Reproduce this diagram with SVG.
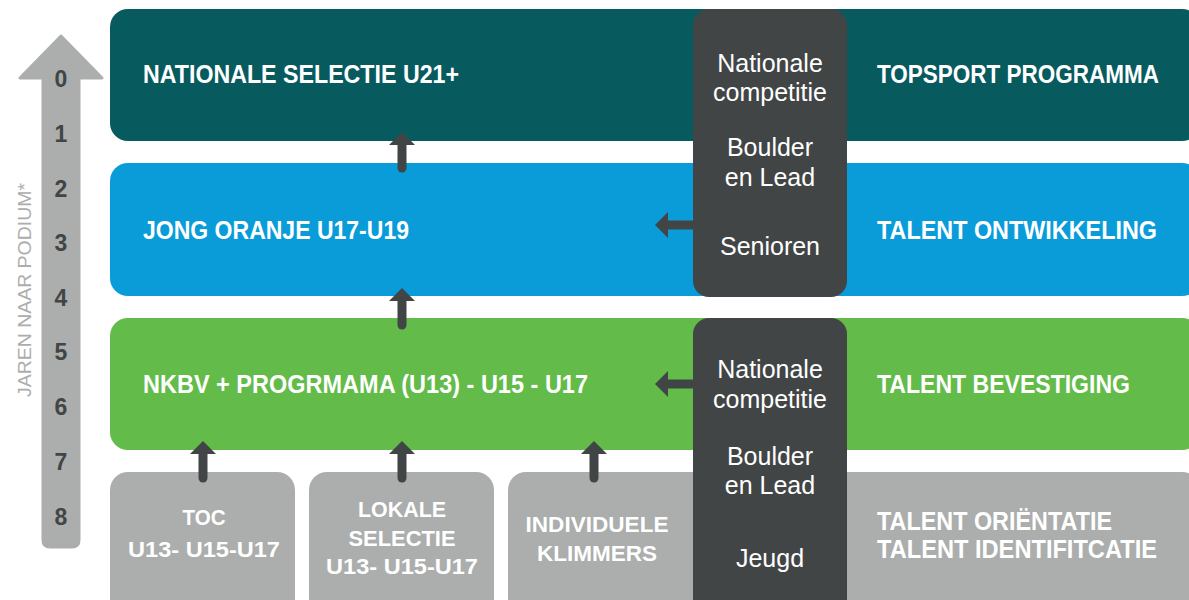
<svg xmlns="http://www.w3.org/2000/svg" width="1189" height="600" viewBox="0 0 1189 600">
<style>
.band-label{font-family:"Liberation Sans",Arial,sans-serif;font-weight:bold;font-size:25px;fill:#ffffff}
.box-label{font-family:"Liberation Sans",Arial,sans-serif;font-weight:bold;font-size:22.5px;fill:#ffffff;text-anchor:middle}
.dark-label{font-family:"Liberation Sans",Arial,sans-serif;font-size:25px;fill:#ffffff;text-anchor:middle}
.num{font-family:"Liberation Sans",Arial,sans-serif;font-weight:bold;font-size:23px;fill:#424546;text-anchor:middle}
.axis-label{font-family:"Liberation Sans",Arial,sans-serif;font-size:18px;fill:#abaeac;text-anchor:middle}
.conn{stroke:#424546;stroke-width:9;stroke-linecap:round;fill:none;marker-end:url(#head)}
.teal{fill:#075b5f}.blue{fill:#0a9cd9}.green{fill:#63bb4a}.gray{fill:#abaeac}.dark{fill:#424546}
</style>
<defs>
<marker id="head" markerUnits="userSpaceOnUse" viewBox="0 0 13 26" refX="0" refY="13" markerWidth="13" markerHeight="26" orient="auto">
<path d="M0,0 L13,13 L0,26 Z" fill="#424546"/>
</marker>
</defs>
<rect width="1189" height="600" fill="#ffffff"/>

<g id="axis">
<path d="M61,36 L102,78 L79,78 L79,540 Q79,547 72,547 L50,547 Q43,547 43,540 L43,78 L20,78 Z" fill="#abaeac" stroke="#abaeac" stroke-width="3" stroke-linejoin="round"/>
<text class="num" x="61" y="87">0</text>
<text class="num" x="61" y="142">1</text>
<text class="num" x="61" y="197">2</text>
<text class="num" x="61" y="251">3</text>
<text class="num" x="61" y="306">4</text>
<text class="num" x="61" y="360">5</text>
<text class="num" x="61" y="415">6</text>
<text class="num" x="61" y="470">7</text>
<text class="num" x="61" y="525">8</text>
<text class="axis-label" transform="translate(31,290) rotate(-90)" textLength="214" lengthAdjust="spacingAndGlyphs">JAREN NAAR PODIUM*</text>
</g>

<g id="band-topsport">
<rect class="teal" x="110" y="9" width="1090" height="132" rx="18"/>
<text class="band-label" x="143" y="83" textLength="316" lengthAdjust="spacingAndGlyphs">NATIONALE SELECTIE U21+</text>
<text class="band-label" x="877" y="83" textLength="282" lengthAdjust="spacingAndGlyphs">TOPSPORT PROGRAMMA</text>
</g>

<g id="band-ontwikkeling">
<rect class="blue" x="110" y="163" width="1090" height="133" rx="18"/>
<text class="band-label" x="143" y="239" textLength="266" lengthAdjust="spacingAndGlyphs">JONG ORANJE U17-U19</text>
<text class="band-label" x="877" y="239" textLength="280" lengthAdjust="spacingAndGlyphs">TALENT ONTWIKKELING</text>
</g>

<g id="band-bevestiging">
<rect class="green" x="110" y="318" width="1090" height="132" rx="18"/>
<text class="band-label" x="143" y="393" textLength="445" lengthAdjust="spacingAndGlyphs">NKBV + PROGRMAMA (U13) - U15 - U17</text>
<text class="band-label" x="877" y="393" textLength="253" lengthAdjust="spacingAndGlyphs">TALENT BEVESTIGING</text>
</g>

<g id="box-toc">
<rect class="gray" x="110" y="472" width="185" height="150" rx="18"/>
<text class="box-label" x="204" y="525" textLength="43" lengthAdjust="spacingAndGlyphs">TOC</text>
<text class="box-label" x="204" y="557" textLength="152" lengthAdjust="spacingAndGlyphs">U13- U15-U17</text>
</g>

<g id="box-lokale">
<rect class="gray" x="309" y="472" width="185" height="150" rx="18"/>
<text class="box-label" x="402" y="517" textLength="88" lengthAdjust="spacingAndGlyphs">LOKALE</text>
<text class="box-label" x="402" y="546" textLength="107" lengthAdjust="spacingAndGlyphs">SELECTIE</text>
<text class="box-label" x="402" y="574" textLength="152" lengthAdjust="spacingAndGlyphs">U13- U15-U17</text>
</g>

<g id="box-individuele">
<rect class="gray" x="508" y="472" width="692" height="150" rx="18"/>
<text class="box-label" x="597" y="532" textLength="143" lengthAdjust="spacingAndGlyphs">INDIVIDUELE</text>
<text class="box-label" x="597" y="561" textLength="120" lengthAdjust="spacingAndGlyphs">KLIMMERS</text>
<text class="band-label" x="877" y="530" textLength="235" lengthAdjust="spacingAndGlyphs">TALENT ORIËNTATIE</text>
<text class="band-label" x="877" y="558" textLength="280" lengthAdjust="spacingAndGlyphs">TALENT IDENTIFITCATIE</text>
</g>

<g id="connectors">
<line class="conn" x1="402" y1="168" x2="402" y2="145"/>
<line class="conn" x1="402" y1="325" x2="402" y2="301"/>
<line class="conn" x1="203" y1="478" x2="203" y2="454"/>
<line class="conn" x1="402" y1="478" x2="402" y2="454"/>
<line class="conn" x1="594" y1="478" x2="594" y2="454"/>
<line class="conn" x1="700" y1="225" x2="668" y2="225" style="stroke-linecap:butt"/>
<line class="conn" x1="700" y1="384" x2="668" y2="384" style="stroke-linecap:butt"/>
</g>

<g id="competitie-senioren">
<rect class="dark" x="693" y="9" width="154" height="288" rx="16"/>
<text class="dark-label" x="770" y="72">Nationale</text>
<text class="dark-label" x="770" y="101">competitie</text>
<text class="dark-label" x="770" y="156">Boulder</text>
<text class="dark-label" x="770" y="186">en Lead</text>
<text class="dark-label" x="770" y="255">Senioren</text>
</g>

<g id="competitie-jeugd">
<rect class="dark" x="693" y="318" width="154" height="300" rx="16"/>
<text class="dark-label" x="770" y="378">Nationale</text>
<text class="dark-label" x="770" y="408">competitie</text>
<text class="dark-label" x="770" y="465">Boulder</text>
<text class="dark-label" x="770" y="494">en Lead</text>
<text class="dark-label" x="770" y="567">Jeugd</text>
</g>
</svg>
